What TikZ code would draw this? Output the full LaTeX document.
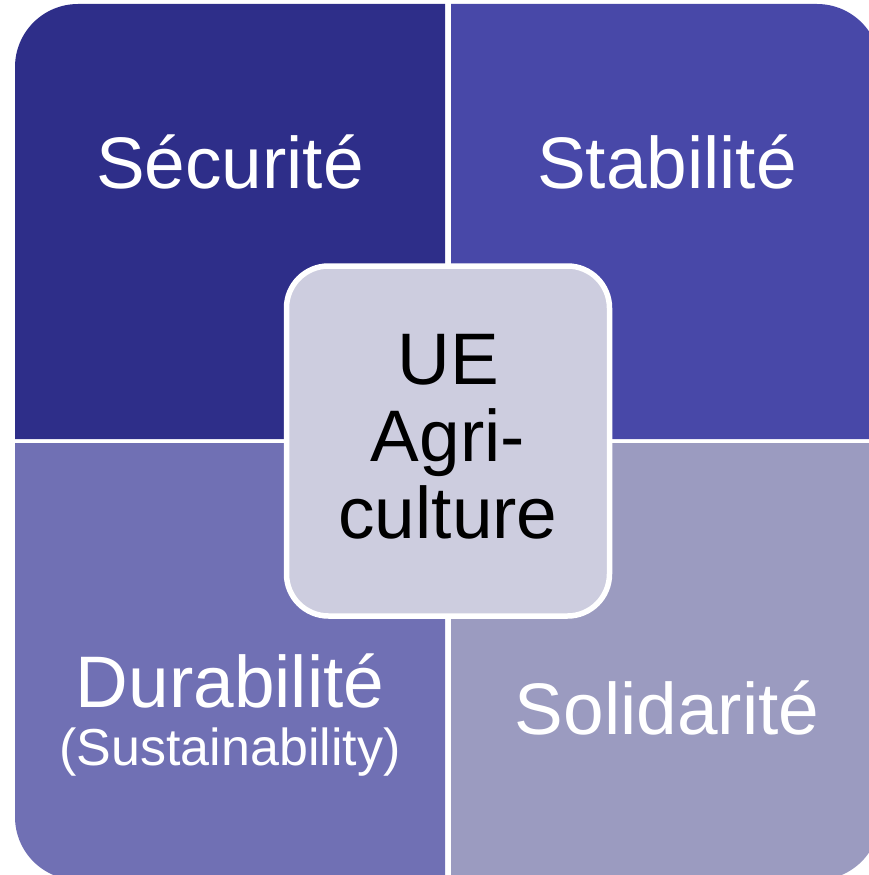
\documentclass[tikz,border=0pt]{standalone}
\usepackage{fontspec}
\setmainfont{Liberation Sans}
\definecolor{qtl}{RGB}{46,46,137}
\definecolor{qtr}{RGB}{72,72,168}
\definecolor{qbl}{RGB}{112,112,180}
\definecolor{qbr}{RGB}{155,155,192}
\definecolor{ctrfill}{RGB}{205,205,223}
\tikzset{
  quadlabel/.style={text=white, inner sep=0pt, anchor=base, font=\fontsize{73}{77}\selectfont},
  sublabel/.style={text=white, inner sep=0pt, anchor=base, font=\fontsize{52}{56}\selectfont},
  ctrbox/.style={draw=white, line width=5.5pt, fill=ctrfill, rounded corners=42pt, minimum width=323pt, minimum height=350pt, inner sep=0pt},
  ctrtxt/.style={text=black, inner sep=0pt, align=center, font=\fontsize{73}{77}\selectfont}
}
\begin{document}
\begin{tikzpicture}[x=1pt,y=-1pt]
\useasboundingbox (0,0) rectangle (869,875);
\clip (0,0) rectangle (869,875);
% quadrants
\fill[qtl] (15,439) -- (15,67) arc[start angle=180, end angle=270, radius=63] -- (445,4) -- (445,439) -- cycle;
\fill[qtr] (451,439) -- (451,4) -- (817,4) arc[start angle=270, end angle=360, radius=63] -- (880,439) -- cycle;
\fill[qbl] (15,443) -- (445,443) -- (445,880) -- (78,880) arc[start angle=90, end angle=180, radius=63] -- cycle;
\fill[qbr] (451,443) -- (880,443) -- (880,817) arc[start angle=0, end angle=90, radius=63] -- (451,880) -- cycle;
% labels
\node[quadlabel] (secu) at (230,188) {Sécurité};
\node[quadlabel] (stab) at (667,188) {Stabilité};
\node[quadlabel] (dura) at (230,707) {Durabilité};
\node[sublabel] (sust) at (230,765) {(Sustainability)};
\node[quadlabel] (soli) at (667,734) {Solidarité};
% centre
\node[ctrbox] (ctr) at (448,441) {};
\node[ctrtxt] (ctrlabel) at (448,437) {UE\\Agri-\\culture};
\end{tikzpicture}
\end{document}
